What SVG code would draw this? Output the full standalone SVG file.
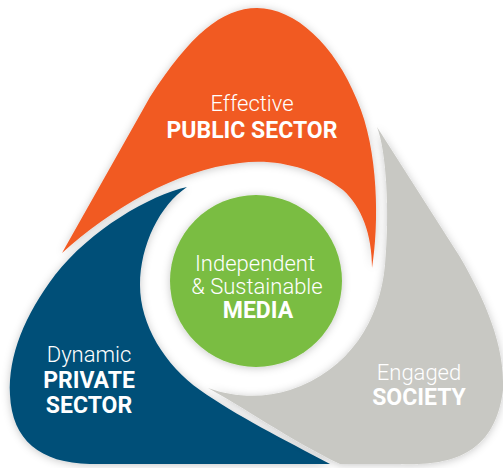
<svg xmlns="http://www.w3.org/2000/svg" width="503" height="468" viewBox="0 0 503 468">
  <defs>
    <filter id="soft" x="-20%" y="-20%" width="140%" height="140%">
      <feGaussianBlur in="SourceAlpha" stdDeviation="4"/>
      <feOffset dx="0" dy="1" result="b"/>
      <feFlood flood-color="#000" flood-opacity="0.22"/>
      <feComposite in2="b" operator="in"/>
      <feMerge><feMergeNode/><feMergeNode in="SourceGraphic"/></feMerge>
    </filter>
  </defs>
  <style>
    .light { font-family: Roboto, "Liberation Sans", sans-serif; font-weight: 300; font-size: 22px; fill: #fff; text-anchor: middle; }
    .bold { font-family: Roboto, "Liberation Sans", sans-serif; font-weight: 700; font-size: 23px; fill: #fff; text-anchor: middle; }
    .petal { filter: url(#soft); }
  </style>
  <rect width="503" height="468" fill="#fff"/>

  <!-- top petal -->
  <g id="public-sector">
    <path class="petal" fill="#F15A24" d="M372,268 C379,225 379,150 357,100 C335,45 295,8 257,8 C222,8 190,35 150,97 L62,253 C110,210 175,170 240,163 C275,158 315,168 343,190 C362,207 372,235 372,268 Z"/>
    <text class="light" x="252" y="111">Effective</text>
    <text class="bold" x="252" y="138">PUBLIC SECTOR</text>
  </g>

  <!-- lower-left petal -->
  <g id="private-sector">
    <path class="petal" fill="#034F78" d="M187,187 C150,195 90,230 55,275 C25,315 8,355 10,395 C12,440 40,463 90,464 L330,464 C285,440 235,415 200,390 C165,365 140,325 140,285 C140,245 160,205 187,187 Z"/>
    <text class="light" x="89" y="362">Dynamic</text>
    <text class="bold" x="89" y="388">PRIVATE</text>
    <text class="bold" x="89" y="413">SECTOR</text>
  </g>

  <!-- lower-right petal -->
  <g id="society">
    <path class="petal" fill="#C8C8C3" d="M208,388 C240,405 290,440 340,464 L400,464 C450,466 495,455 503,390 C505,345 485,300 460,257 L377,127 C386,150 390,210 385,265 C380,320 350,370 290,390 C265,398 235,398 208,388 Z"/>
    <text class="light" x="419" y="380">Engaged</text>
    <text class="bold" x="419" y="405">SOCIETY</text>
  </g>

  <!-- centre -->
  <g id="media">
    <circle class="petal" cx="256" cy="281" r="86" fill="#7ABD43"/>
    <text class="light" x="255" y="271">Independent</text>
    <text class="light" x="257" y="294">&amp; Sustainable</text>
    <text class="bold" x="258" y="318">MEDIA</text>
  </g>

  <g id="connectors"/>
</svg>
